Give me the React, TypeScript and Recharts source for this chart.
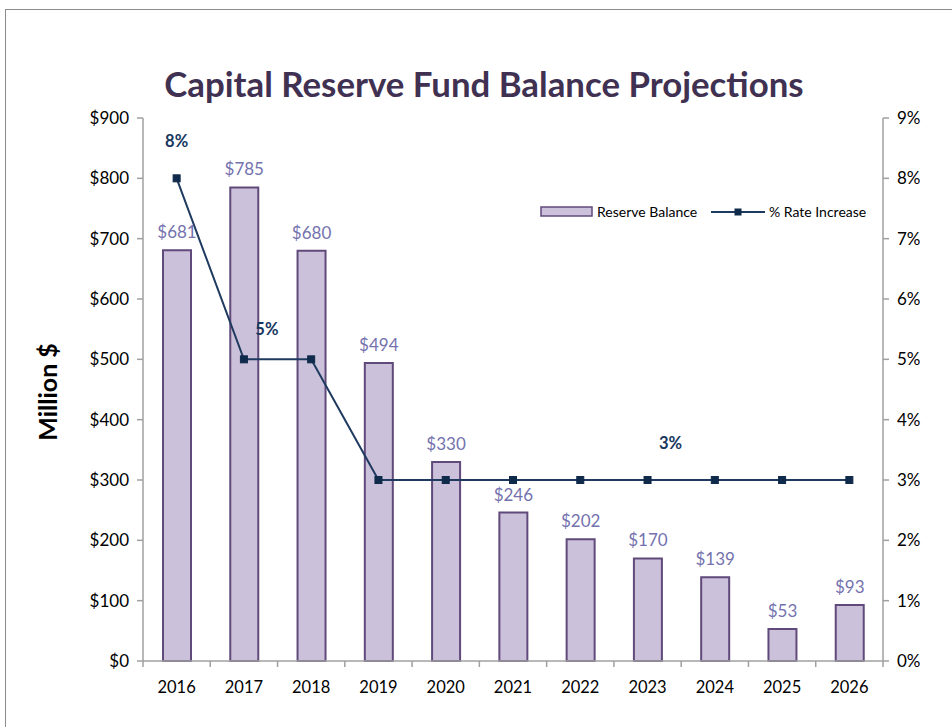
import React from 'react';
import { ComposedChart, Bar, Line, XAxis, YAxis, LabelList, Legend } from 'recharts';

const years = ['2016', '2017', '2018', '2019', '2020', '2021', '2022', '2023', '2024', '2025', '2026'];
const reserveBalance = [681, 785, 680, 494, 330, 246, 202, 170, 139, 53, 93];
const rateIncrease = [8, 5, 5, 3, 3, 3, 3, 3, 3, 3, 3];
const leftTicks = [0, 100, 200, 300, 400, 500, 600, 700, 800, 900];
const rightTicks = [0, 1, 2, 3, 4, 5, 6, 7, 8, 9];
const labeledRateIdx = [0, 1, 7];

const data = years.map((y, i) => ({ year: y, balance: reserveBalance[i], rate: rateIncrease[i] }));

const FONT = 'Lato, "Open Sans", sans-serif';
const AXIS = '#A0A0A0';
const PLOT_LEFT = 143;
const PLOT_RIGHT = 883;
const BAND = (PLOT_RIGHT - PLOT_LEFT) / years.length;

const XTick = (props: any) => {
  const { x, y, payload, index } = props;
  const last = index === years.length - 1;
  return (
    <g>
      <line x1={x - BAND / 2} y1={y - 8} x2={x - BAND / 2} y2={y - 2} stroke={AXIS} strokeWidth={1.5} />
      {last && <line x1={x + BAND / 2} y1={y - 8} x2={x + BAND / 2} y2={y - 2} stroke={AXIS} strokeWidth={1.5} />}
      <text x={x} y={y + 24} textAnchor="middle" fontSize={16.5} fill="#000" fontFamily={FONT}>{payload.value}</text>
    </g>
  );
};

const SquareDot = (props: any) => {
  const { cx, cy } = props;
  return <rect x={cx - 3.5} y={cy - 3.5} width={7} height={7} fill="#0F2A4A" stroke="#0F2A4A" />;
};

const RateLabel = (props: any) => {
  const { x, y, value, index } = props;
  if (!labeledRateIdx.includes(index)) return null;
  const dx = index === 0 ? 0 : 23;
  const dy = index === 1 ? -24 : -31;
  return (
    <text x={x + dx} y={y + dy} textAnchor="middle" fontSize={16.5} fontWeight={700} fill="#17375E" fontFamily={FONT}>
      {value}%
    </text>
  );
};

const LegendContent = () => (
  <svg width={345} height={20} style={{ display: 'block' }}>
    <rect x={1} y={5} width={51} height={9} fill="#CCC1DA" stroke="#604A7B" strokeWidth={1.5} />
    <text x={57} y={14.5} fontSize={14} fill="#000" fontFamily={FONT}>Reserve Balance</text>
    <line x1={171} y1={10} x2={225} y2={10} stroke="#1F3A5F" strokeWidth={2} />
    <rect x={194.5} y={6.5} width={7} height={7} fill="#0F2A4A" />
    <text x={229} y={14.5} fontSize={14} fill="#000" fontFamily={FONT}>% Rate Increase</text>
  </svg>
);

export default function App() {
  return (
    <div style={{ position: 'absolute', left: 0, top: 0, width: 952, height: 727, overflow: 'hidden', background: '#fff' }}>
      <div style={{ position: 'absolute', left: 5, top: 9, width: 1000, height: 1000, border: '1px solid #8C8C8C' }} />
      <div style={{ position: 'absolute', left: 0, top: 63, width: 968, textAlign: 'center', fontFamily: FONT, fontWeight: 700, fontSize: 34.8, color: '#403152' }}>
        Capital Reserve Fund Balance Projections
      </div>
      <div style={{ position: 'absolute', left: 0, top: 0 }}>
        <ComposedChart width={952} height={727} data={data} margin={{ top: 118, right: 19, bottom: 36, left: 83 }}>
          <XAxis dataKey="year" height={30} stroke={AXIS} strokeWidth={1.5} tickLine={false} tick={<XTick />} interval={0} />
          <YAxis
            yAxisId="left"
            width={60}
            domain={[0, 900]}
            ticks={leftTicks}
            tickFormatter={(v: number) => `$${v}`}
            stroke={AXIS}
            strokeWidth={1.5}
            tickSize={6}
            tick={{ fill: '#000', fontSize: 17, fontFamily: FONT, dx: -6 }}
            label={{
              content: () => (
                <text transform="translate(47,392) rotate(-90)" textAnchor="middle" dominantBaseline="central" fontSize={25} fontWeight={700} fontFamily={FONT} fill="#000">
                  Million $
                </text>
              ),
            }}
          />
          <YAxis
            yAxisId="right"
            orientation="right"
            width={50}
            domain={[0, 9]}
            ticks={rightTicks}
            tickFormatter={(v: number) => `${v}%`}
            stroke={AXIS}
            strokeWidth={1.5}
            tickSize={6}
            tick={{ fill: '#000', fontSize: 17, fontFamily: FONT, dx: 6 }}
          />
          <Legend layout="horizontal" verticalAlign="middle" align="center" content={<LegendContent />} wrapperStyle={{ position: 'absolute', left: 540, top: 202, width: 345 }} />
          <Bar yAxisId="left" dataKey="balance" name="Reserve Balance" barSize={28} fill="#CCC1DA" stroke="#604A7B" strokeWidth={2} isAnimationActive={false}>
            <LabelList dataKey="balance" position="top" offset={12} formatter={(v: any) => `$${v}`} fill="#7472AE" fontSize={17} fontFamily={FONT} />
          </Bar>
          <Line yAxisId="right" dataKey="rate" name="% Rate Increase" stroke="#1F3A5F" strokeWidth={2} dot={<SquareDot />} activeDot={false} isAnimationActive={false}>
            <LabelList dataKey="rate" content={<RateLabel />} />
          </Line>
        </ComposedChart>
      </div>
    </div>
  );
}
